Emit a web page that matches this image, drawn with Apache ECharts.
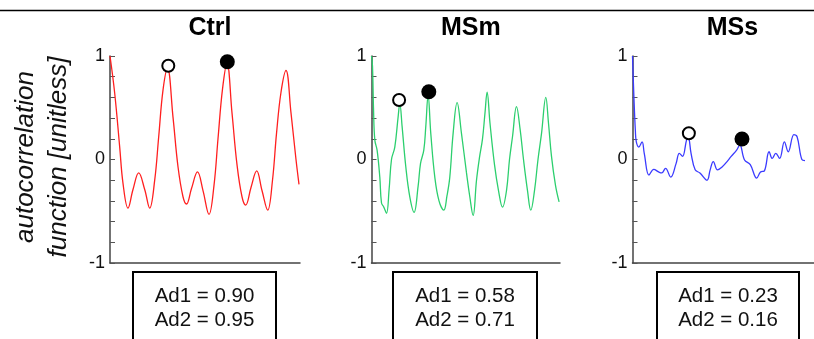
<!DOCTYPE html>
<html>
<head>
<meta charset="utf-8">
<script src="https://cdn.jsdelivr.net/npm/echarts@6/dist/echarts.min.js"></script>
<style>
  html, body { margin: 0; padding: 0; background: #fff; }
  #chart { width: 814px; height: 339px; }
</style>
</head>
<body>
<div id="chart"></div>
<script>
// panel titles
const panelNames = ['Ctrl', 'MSm', 'MSs']
// y tick labels shown
const yTicks = [-1, 0, 1]
// [lag, autocorrelation]
const ctrlData = [
  [0, 1.0], [4.7, 0.64], [9.7, 0.12], [13, -0.23], [18, -0.47], [23, -0.29], [28.7, -0.13],
  [34.7, -0.29], [39.7, -0.47], [44.7, -0.2], [48.7, 0.22], [53, 0.67], [57.5, 0.88],
  [63, 0.41], [68, -0.07], [73, -0.36], [76.5, -0.43], [81.5, -0.28], [87.5, -0.12],
  [93, -0.3], [99, -0.53], [104, -0.25], [108, 0.2], [112.5, 0.68], [117, 0.93],
  [122, 0.45], [127, -0.05], [132, -0.36], [135.7, -0.44], [141, -0.27], [146.7, -0.11],
  [152, -0.3], [157.7, -0.49], [162.5, -0.2], [166.5, 0.25], [171, 0.65], [176, 0.86],
  [181, 0.45], [186, 0.0], [189, -0.24]
]
const msmData = [
  [0, 1.0], [1, 0.9], [2, 0.5], [3.3, 0.19], [5.6, 0.09], [8.3, -0.17], [10, -0.42],
  [12.3, -0.46], [15, -0.52], [17.6, -0.29], [20, 0.0], [23.3, 0.12], [26.6, 0.41],
  [28.3, 0.54], [30.6, 0.32], [34.3, -0.07], [38.3, -0.36], [42.6, -0.51], [46.6, -0.26],
  [49, -0.04], [52.3, 0.09], [54.3, 0.32], [56.6, 0.62], [59.3, 0.25], [63.3, -0.17],
  [67.5, -0.4], [72.3, -0.49], [75.5, -0.35], [78.3, -0.17], [81.6, 0.25], [85.6, 0.55],
  [90, 0.25], [95, -0.13], [98.3, -0.36], [101.6, -0.54], [105, -0.2], [108, 0.02],
  [111, 0.2], [113.5, 0.45], [115.6, 0.65], [118.5, 0.35], [123, -0.05], [127, -0.3],
  [131, -0.46], [135, -0.3], [138, 0.0], [141, 0.22], [145, 0.51], [148.5, 0.3],
  [152, 0.0], [156, -0.3], [159.3, -0.49], [163, -0.3], [166.5, 0.0], [170, 0.25],
  [174.3, 0.6], [177, 0.35], [180, 0.03], [184, -0.25], [187.6, -0.41]
]
const mssData = [
  [0, 1.0], [1.5, 0.6], [3, 0.28], [4, 0.17], [6.6, 0.12], [10, 0.17], [12.3, 0.06],
  [17.3, -0.15], [22.3, -0.095], [27.3, -0.12], [30.6, -0.13], [34.6, -0.085],
  [40, -0.17], [45.6, -0.04], [49, 0.06], [52.3, 0.03], [56.6, 0.19], [58.3, 0.22],
  [61.3, 0.06], [65.6, -0.1], [70.6, -0.13], [78, -0.2], [81.3, -0.1], [84.6, -0.02],
  [89, -0.1], [94, -0.07], [99, -0.02], [103.3, 0.03], [109, 0.09], [112.3, 0.14],
  [117.3, -0.005], [123.3, -0.05], [130, -0.18], [134, -0.12], [138, -0.11],
  [143, 0.075], [146.3, 0.01], [150, 0.06], [154, 0.01], [159, 0.17], [163, 0.075],
  [169, 0.24], [172.3, 0.22], [177.3, 0.0], [180.6, -0.01]
]
// marked peaks: first (open) and second (filled)
const peak1 = [[58.3, 0.906], [27.6, 0.575], [59, 0.253]]
const peak2 = [[117.3, 0.945], [57.3, 0.655], [114.6, 0.198]]
// box texts
const ad1 = ['0.90', '0.58', '0.23']
const ad2 = ['0.95', '0.71', '0.16']

const lineColors = ['#ff1f1f', '#2ccf6e', '#3b3bff']
const seriesData = [ctrlData, msmData, mssData]
const grids = [
  { left: 110, top: 56, width: 190, height: 207 },
  { left: 371.5, top: 56, width: 188.5, height: 207 },
  { left: 632.5, top: 56, width: 190, height: 207 }
]
const xMax = [190, 188.5, 190]
const boxes = [[133, 276], [393, 537], [657, 799]]

const chart = echarts.init(document.getElementById('chart'))

const font = 'Liberation Sans, Arial, sans-serif'
const option = {
  animation: false,
  grid: grids,
  xAxis: grids.map((g, i) => ({
    type: 'value',
    gridIndex: i,
    min: 0,
    max: xMax[i],
    axisLine: { show: true, onZero: false, lineStyle: { color: '#444', width: 1.5 } },
    axisTick: { show: false },
    axisLabel: { show: false },
    splitLine: { show: false }
  })),
  yAxis: grids.map((g, i) => ({
    type: 'value',
    gridIndex: i,
    min: -1,
    max: 1,
    interval: 0.2,
    axisLine: { show: true, onZero: false, lineStyle: { color: '#444', width: 1.5 } },
    axisTick: { show: true, inside: true, length: 5, lineStyle: { color: '#555', width: 1 } },
    axisLabel: {
      margin: 5,
      fontSize: 18,
      fontFamily: font,
      color: '#111',
      formatter: v => {
        const r = Math.round(v)
        return Math.abs(v - r) < 1e-6 && yTicks.includes(r) ? String(r) : ''
      }
    },
    splitLine: { show: false }
  })),
  title: panelNames.map((name, i) => ({
    text: name,
    left: grids[i].left + grids[i].width / 2,
    top: 11,
    textAlign: 'center',
    textStyle: { fontSize: 25, fontWeight: 'bold', fontFamily: font, color: '#000' }
  })),
  series: [
    ...seriesData.map((d, i) => ({
      type: 'line',
      xAxisIndex: i,
      yAxisIndex: i,
      data: d,
      smooth: 0.4,
      symbol: 'none',
      lineStyle: { color: lineColors[i], width: 1.3 },
      z: 2
    })),
    ...peak1.map((p, i) => ({
      type: 'scatter',
      xAxisIndex: i,
      yAxisIndex: i,
      data: [p],
      symbol: 'circle',
      symbolSize: 12,
      itemStyle: { color: '#fff', borderColor: '#000', borderWidth: 2, opacity: 1 },
      z: 5
    })),
    ...peak2.map((p, i) => ({
      type: 'scatter',
      xAxisIndex: i,
      yAxisIndex: i,
      data: [p],
      symbol: 'circle',
      symbolSize: 15,
      itemStyle: { color: '#000', opacity: 1 },
      z: 5
    }))
  ],
  graphic: [
    { type: 'line', shape: { x1: 0, y1: 10.5, x2: 814, y2: 10.5 }, style: { stroke: '#000', lineWidth: 1.5 } },
    {
      type: 'text',
      x: 42,
      y: 157,
      rotation: Math.PI / 2,
      style: {
        text: 'autocorrelation\nfunction [unitless]',
        fontSize: 26,
        fontStyle: 'italic',
        fontFamily: font,
        fill: '#111',
        align: 'center',
        verticalAlign: 'middle',
        lineHeight: 33
      }
    },
    ...boxes.map((b, i) => ({
      type: 'group',
      children: [
        { type: 'rect', shape: { x: b[0], y: 272, width: b[1] - b[0], height: 80 }, style: { fill: '#fff', stroke: '#000', lineWidth: 2 } },
        {
          type: 'text',
          x: (b[0] + b[1]) / 2,
          y: 308,
          style: {
            text: 'Ad1 = ' + ad1[i] + '\nAd2 = ' + ad2[i],
            fontSize: 20.5,
            fontFamily: font,
            fill: '#111',
            align: 'center',
            verticalAlign: 'middle',
            lineHeight: 24
          }
        }
      ]
    }))
  ]
}
chart.setOption(option)
</script>
</body>
</html>
